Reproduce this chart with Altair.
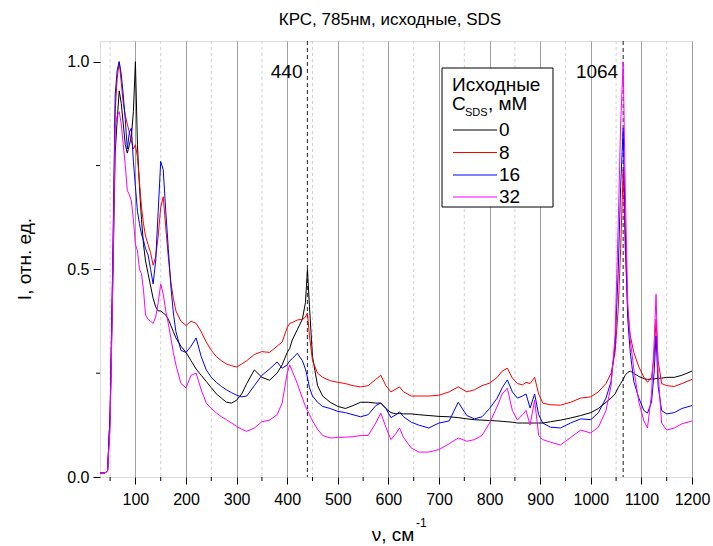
import altair as alt
import pandas as pd

# ---------------- data ----------------
wavenumber = [30, 40, 45, 50, 55, 60, 64, 68, 72, 76, 80, 84, 88, 92, 96, 100, 104, 108, 112, 116,
              120, 125, 130, 135, 140, 145, 150, 155, 160, 165, 170, 175, 180, 190, 200, 210, 220,
              230, 240, 250, 260, 270, 280, 290, 300, 310, 320, 335, 350, 365, 380, 390, 400, 405,
              410, 420, 430, 436, 440, 444, 450, 460, 470, 485, 500, 515, 530, 545, 560, 575, 585,
              595, 605, 615, 622, 630, 645, 660, 680, 700, 720, 738, 755, 770, 785, 800, 815, 825,
              835, 845, 855, 865, 872, 880, 889, 897, 905, 920, 940, 960, 980, 1000, 1015, 1030,
              1040, 1048, 1054, 1059, 1064, 1068, 1073, 1078, 1085, 1095, 1105, 1112, 1120, 1125,
              1129, 1133, 1140, 1150, 1165, 1180, 1200]

i_0 = [0.01, 0.01, 0.015, 0.15, 0.45, 0.78, 0.86, 0.93, 0.90, 0.85, 0.80, 0.78, 0.80, 0.82, 0.88, 1.0,
       0.80, 0.70, 0.62, 0.56, 0.52, 0.49, 0.46, 0.43, 0.41, 0.40, 0.40, 0.395, 0.39, 0.38, 0.365,
       0.35, 0.335, 0.315, 0.30, 0.28, 0.26, 0.245, 0.23, 0.215, 0.20, 0.19, 0.18, 0.178, 0.185,
       0.20, 0.225, 0.258, 0.24, 0.233, 0.25, 0.27, 0.30, 0.31, 0.33, 0.355, 0.38, 0.42, 0.50,
       0.41, 0.29, 0.22, 0.195, 0.18, 0.17, 0.165, 0.172, 0.18, 0.18, 0.178, 0.178, 0.165, 0.155,
       0.152, 0.153, 0.152, 0.152, 0.15, 0.148, 0.146, 0.145, 0.143, 0.14, 0.138, 0.137, 0.136,
       0.135, 0.134, 0.133, 0.132, 0.13, 0.13, 0.13, 0.13, 0.13, 0.13, 0.13, 0.133, 0.137, 0.142,
       0.148, 0.155, 0.165, 0.18, 0.19, 0.20, 0.215, 0.225, 0.235, 0.245, 0.252, 0.255, 0.25,
       0.242, 0.237, 0.235, 0.236, 0.236, 0.237, 0.238, 0.238, 0.24, 0.24, 0.245, 0.255]

i_8 = [0.01, 0.01, 0.015, 0.15, 0.50, 0.88, 0.96, 1.0, 0.95, 0.90, 0.87, 0.85, 0.83, 0.81, 0.79, 0.80,
       0.77, 0.71, 0.65, 0.61, 0.58, 0.56, 0.54, 0.51, 0.53, 0.58, 0.65, 0.675, 0.60, 0.53, 0.47,
       0.43, 0.40, 0.375, 0.365, 0.375, 0.37, 0.35, 0.325, 0.305, 0.29, 0.28, 0.272, 0.268, 0.265,
       0.272, 0.28, 0.295, 0.302, 0.30, 0.315, 0.325, 0.36, 0.37, 0.372, 0.378, 0.38, 0.385, 0.395,
       0.34, 0.28, 0.25, 0.24, 0.232, 0.228, 0.225, 0.22, 0.217, 0.22, 0.235, 0.245, 0.22, 0.205,
       0.212, 0.217, 0.205, 0.195, 0.195, 0.195, 0.197, 0.205, 0.217, 0.205, 0.21, 0.22, 0.226,
       0.24, 0.255, 0.262, 0.238, 0.225, 0.222, 0.228, 0.225, 0.24, 0.20, 0.178, 0.174, 0.173,
       0.18, 0.19, 0.193, 0.205, 0.225, 0.25, 0.30, 0.40, 0.55, 0.74, 0.55, 0.40, 0.34, 0.30,
       0.265, 0.24, 0.228, 0.24, 0.29, 0.38, 0.28, 0.225, 0.22, 0.218, 0.225, 0.235]

i_16 = [0.01, 0.01, 0.015, 0.15, 0.50, 0.92, 0.98, 1.0, 0.97, 0.92, 0.86, 0.79, 0.83, 0.84, 0.76, 0.70,
        0.64, 0.61, 0.585, 0.57, 0.55, 0.535, 0.50, 0.465, 0.52, 0.64, 0.76, 0.74, 0.64, 0.55, 0.46,
        0.395, 0.35, 0.305, 0.30, 0.315, 0.335, 0.29, 0.258, 0.24, 0.228, 0.218, 0.21, 0.203, 0.197,
        0.193, 0.195, 0.22, 0.245, 0.26, 0.277, 0.262, 0.27, 0.28, 0.285, 0.298, 0.28, 0.26, 0.24,
        0.215, 0.195, 0.18, 0.17, 0.165, 0.158, 0.155, 0.15, 0.145, 0.15, 0.172, 0.178, 0.165,
        0.143, 0.15, 0.157, 0.145, 0.132, 0.125, 0.118, 0.13, 0.135, 0.18, 0.148, 0.14, 0.145,
        0.165, 0.19, 0.215, 0.234, 0.205, 0.19, 0.195, 0.20, 0.166, 0.20, 0.15, 0.13, 0.12, 0.118,
        0.13, 0.14, 0.138, 0.155, 0.19, 0.23, 0.32, 0.49, 0.70, 0.84, 0.60, 0.38, 0.30, 0.23, 0.19,
        0.16, 0.154, 0.18, 0.25, 0.34, 0.22, 0.16, 0.152, 0.155, 0.165, 0.172]

i_32 = [0.01, 0.01, 0.015, 0.12, 0.45, 0.84, 0.87, 0.88, 0.85, 0.80, 0.75, 0.69, 0.68, 0.665, 0.62,
        0.56, 0.545, 0.50, 0.49, 0.45, 0.39, 0.38, 0.375, 0.37, 0.385, 0.42, 0.465, 0.44, 0.40, 0.37,
        0.335, 0.30, 0.27, 0.225, 0.215, 0.245, 0.25, 0.21, 0.178, 0.165, 0.154, 0.145, 0.138, 0.13,
        0.122, 0.115, 0.11, 0.118, 0.133, 0.137, 0.15, 0.178, 0.25, 0.27, 0.255, 0.225, 0.19, 0.17,
        0.16, 0.15, 0.135, 0.115, 0.10, 0.094, 0.095, 0.096, 0.097, 0.10, 0.10, 0.13, 0.154, 0.12,
        0.09, 0.105, 0.118, 0.095, 0.07, 0.06, 0.06, 0.066, 0.08, 0.094, 0.086, 0.09, 0.10, 0.13,
        0.17, 0.20, 0.214, 0.16, 0.137, 0.15, 0.16, 0.125, 0.185, 0.10, 0.09, 0.084, 0.077, 0.095,
        0.113, 0.106, 0.12, 0.16, 0.22, 0.34, 0.60, 0.85, 1.0, 0.70, 0.42, 0.33, 0.26, 0.18, 0.135,
        0.118, 0.20, 0.32, 0.44, 0.25, 0.13, 0.113, 0.118, 0.128, 0.135]

series_names = ["0", "8", "16", "32"]
series_colors = ["#000000", "#ff0000", "#0000ff", "#ff00ff"]
series_values = [i_0, i_8, i_16, i_32]

x_major = list(range(100, 1201, 100))
x_minor = list(range(50, 1200, 100))
y_major = [0.0, 0.5, 1.0]
y_minor = [0.25, 0.75]
marker_lines = [440, 1064]
marker_labels = ["440", "1064"]

title_text = "КРС, 785нм, исходные, SDS"
y_title = "I, отн. ед."
x_title = "ν, см"
x_title_sup = "-1"
legend_title_1 = "Исходные"

# ---------------- chart ----------------
W, H = 592, 436
FONT = "Liberation Sans"
BIG = 19

xscale = alt.Scale(domain=[30, 1200], nice=False, zero=False)
yscale = alt.Scale(domain=[0, 1.05], nice=False, zero=False)

x_axis = alt.Axis(values=x_major, format="d", grid=True, gridColor="#a0a0a0", gridWidth=1,
                  tickSize=7, tickColor="black", tickWidth=1, domain=False,
                  labelFont=FONT, labelFontSize=16, labelColor="black", labelPadding=7,
                  labelFlush=False, title="")
y_axis = alt.Axis(values=y_major, format=".1f", grid=False, tickSize=7, tickColor="black",
                  tickWidth=1, domain=False, labelFont=FONT, labelFontSize=16,
                  labelColor="black", labelPadding=4, title="")

X = alt.X("v:Q", scale=xscale, axis=x_axis)
Y = alt.Y("I:Q", scale=yscale, axis=y_axis)

one = pd.DataFrame({"a": [0]})

layers = []

# minor dashed grid
minor_df = pd.DataFrame({"v": x_minor})
layers.append(alt.Chart(minor_df).mark_rule(color="#d0d0d0", strokeDash=[3, 3], strokeWidth=1)
              .encode(x=X))
# minor ticks on x
layers.append(alt.Chart(minor_df).mark_rule(color="black", strokeWidth=1)
              .encode(x=X, y=alt.value(H), y2=alt.value(H + 4)))
# minor ticks on y
yminor_df = pd.DataFrame({"I": y_minor})
layers.append(alt.Chart(yminor_df).mark_rule(color="black", strokeWidth=1)
              .encode(y=Y, x=alt.value(-4), x2=alt.value(0)))

# marker dashed lines
mark_df = pd.DataFrame({"v": marker_lines, "label": marker_labels})
layers.append(alt.Chart(mark_df).mark_rule(color="#404040", strokeDash=[4, 3], strokeWidth=1.2)
              .encode(x=X))
layers.append(alt.Chart(mark_df).mark_text(font=FONT, fontSize=BIG, align="right",
                                           baseline="middle", dx=-5, color="black")
              .encode(x=X, y=alt.value(31), text="label:N"))

# spectra
for name, vals, col in zip(series_names, series_values, series_colors):
    d = pd.DataFrame({"v": wavenumber, "I": vals})
    layers.append(alt.Chart(d).mark_line(color=col, strokeWidth=1).encode(x=X, y=Y))

# legend box
layers.append(alt.Chart(one).mark_rect(fill="white", stroke="black", strokeWidth=1)
              .encode(x=alt.value(342), x2=alt.value(453), y=alt.value(27), y2=alt.value(166)))
layers.append(alt.Chart(one).mark_text(font=FONT, fontSize=BIG, align="left", baseline="middle",
                                       text=legend_title_1, color="black")
              .encode(x=alt.value(352), y=alt.value(44)))
layers.append(alt.Chart(one).mark_text(font=FONT, fontSize=BIG, align="left", baseline="middle",
                                       text="C", color="black")
              .encode(x=alt.value(352), y=alt.value(63)))
layers.append(alt.Chart(one).mark_text(font=FONT, fontSize=11, align="left", baseline="middle",
                                       text="SDS", color="black")
              .encode(x=alt.value(365), y=alt.value(72)))
layers.append(alt.Chart(one).mark_text(font=FONT, fontSize=BIG, align="left", baseline="middle",
                                       text=", мМ", color="black")
              .encode(x=alt.value(388), y=alt.value(63)))
entry_y = [89, 111.5, 134, 156]
for name, col, yy in zip(series_names, series_colors, entry_y):
    layers.append(alt.Chart(one).mark_rule(color=col, strokeWidth=1)
                  .encode(x=alt.value(353), x2=alt.value(397), y=alt.value(yy)))
    layers.append(alt.Chart(one).mark_text(font=FONT, fontSize=BIG, align="left",
                                           baseline="middle", text=name, color="black")
                  .encode(x=alt.value(399), y=alt.value(yy)))

# title and axis titles
layers.append(alt.Chart(one).mark_text(font=FONT, fontSize=17, align="center", baseline="middle",
                                       text=title_text, color="black")
              .encode(x=alt.value(290), y=alt.value(-21)))
layers.append(alt.Chart(one).mark_text(font=FONT, fontSize=BIG, align="center", baseline="middle",
                                       text=y_title, angle=270, color="black")
              .encode(x=alt.value(-75), y=alt.value(H / 2)))
layers.append(alt.Chart(one).mark_text(font=FONT, fontSize=BIG, align="center", baseline="middle",
                                       text=x_title, color="black")
              .encode(x=alt.value(293), y=alt.value(494)))
layers.append(alt.Chart(one).mark_text(font=FONT, fontSize=12, align="left", baseline="middle",
                                       text=x_title_sup, color="black")
              .encode(x=alt.value(316), y=alt.value(482)))

chart = (
    alt.layer(*layers)
    .properties(width=W, height=H, autosize=alt.AutoSizeParams(type="none"),
                padding={"left": 100, "top": 41, "right": 21, "bottom": 69})
    .configure_view(stroke="black", strokeWidth=1.5)
    .configure(background="white")
)

chart.save("out.html", embed_options={"renderer": "svg", "actions": False})
